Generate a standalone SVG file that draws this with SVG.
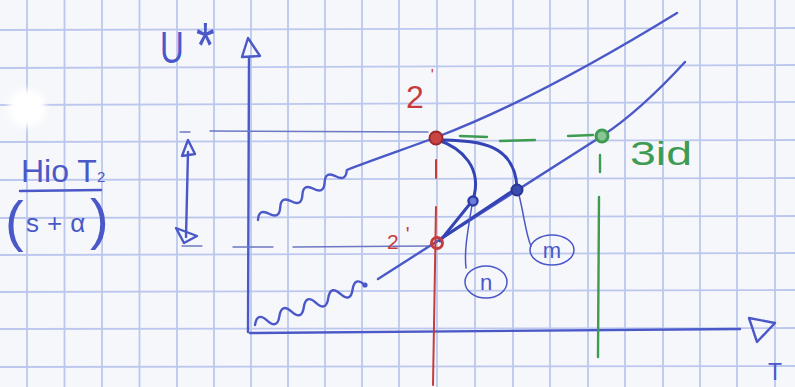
<svg xmlns="http://www.w3.org/2000/svg" width="795" height="387" viewBox="0 0 795 387">
<defs>
<filter id="blur" x="-50%" y="-50%" width="200%" height="200%"><feGaussianBlur stdDeviation="3"/></filter>
</defs>
<style>
.grid line{stroke:#bcc7ee;stroke-width:1.8}
.pen{fill:none;stroke:#4a58c8;stroke-width:2.4;stroke-linecap:round;stroke-linejoin:round}
.thick{fill:none;stroke:#3444b4;stroke-width:3;stroke-linecap:round;stroke-linejoin:round}
.thin{fill:none;stroke:#6d78c4;stroke-width:1.4;stroke-linecap:round}
.lead{fill:none;stroke:#4a58c8;stroke-width:1.5;stroke-linecap:round}
.red{fill:none;stroke:#c63c3c;stroke-width:2;stroke-linecap:round}
.green{fill:none;stroke:#3e9b52;stroke-width:2.4;stroke-linecap:round}
text{font-family:"Liberation Sans",Arial,sans-serif}
.tb{fill:#4a58c8}
.tr{fill:#c63c3c}
.tg{fill:#3e9b52}
</style>
<rect width="795" height="387" fill="#f6f7fb"/>
<g class="grid">
<line x1="27" y1="0" x2="27" y2="387"/><line x1="64.5" y1="0" x2="64.5" y2="387"/><line x1="102" y1="0" x2="102" y2="387"/><line x1="139.5" y1="0" x2="139.5" y2="387"/><line x1="177" y1="0" x2="177" y2="387"/><line x1="214" y1="0" x2="214" y2="387"/><line x1="251" y1="0" x2="251" y2="387"/><line x1="288" y1="0" x2="288" y2="387"/><line x1="325" y1="0" x2="325" y2="387"/><line x1="362" y1="0" x2="362" y2="387"/><line x1="399" y1="0" x2="399" y2="387"/><line x1="437" y1="0" x2="437" y2="387"/><line x1="475" y1="0" x2="475" y2="387"/><line x1="513" y1="0" x2="513" y2="387"/><line x1="550" y1="0" x2="550" y2="387"/><line x1="588" y1="0" x2="588" y2="387"/><line x1="625" y1="0" x2="625" y2="387"/><line x1="663" y1="0" x2="663" y2="387"/><line x1="700" y1="0" x2="700" y2="387"/><line x1="737" y1="0" x2="737" y2="387"/><line x1="775" y1="0" x2="775" y2="387"/>
<line x1="0" y1="30" x2="795" y2="28"/><line x1="0" y1="68" x2="795" y2="65"/><line x1="0" y1="105" x2="795" y2="102"/><line x1="0" y1="142" x2="795" y2="140"/><line x1="0" y1="180" x2="795" y2="178"/><line x1="0" y1="218" x2="795" y2="216"/><line x1="0" y1="255" x2="795" y2="253"/><line x1="0" y1="292" x2="795" y2="290"/><line x1="0" y1="329" x2="795" y2="328"/><line x1="0" y1="367" x2="795" y2="366"/>
</g>
<circle cx="27" cy="108" r="19" fill="#ffffff" filter="url(#blur)"/>

<g id="axes">
<path class="pen" d="M248,332 L249,57"/>
<polygon class="pen" points="248,38 242,57 260,56"/>
<path class="pen" d="M250,333 Q500,332 740,329"/>
<polygon class="pen" points="749,318 775,323 757,342"/>
<text class="tb" transform="translate(160,63) scale(0.75,1)"><tspan font-size="44">U</tspan><tspan x="48" y="5" font-size="64">*</tspan></text>
<text class="tb" x="768" y="380" font-size="23">T</text>
</g>

<g id="gain-label">
<text class="tb" x="21" y="182" font-size="32">Hio T<tspan font-size="15">2</tspan></text>
<path class="pen" d="M20,191 L101,190"/>
<text class="tb"><tspan x="5" y="240" font-size="56">(</tspan><tspan x="26" y="232" font-size="26" letter-spacing="8">s+α</tspan><tspan x="90" y="238" font-size="56">)</tspan></text>
<path class="pen" d="M188,152 L186,237"/>
<polygon class="pen" points="188,140 182,156 195,154"/>
<polygon class="pen" points="176,228 197,236 184,243"/>
</g>

<g id="connectors">
<path class="thin" d="M180,132 L190,132 M210,131 L428,132"/>
<path class="thin" d="M182,246 L202,246 M233,247 L273,247 M293,247 L428,246"/>
<path class="pen" d="M258,220 q0.65,-11.8 11.1,-6.25 t11.1,-6.25 t11.1,-6.25 t11.1,-6.25 t11.1,-6.25 t11.1,-6.25 t11.1,-6.25 t11.1,-6.25 C372,160 402,150 437,137 Q537,99 677,13"/>
<path class="pen" d="M255,325 q2.0,-13.5 12.2,-4.44 t12.2,-4.44 t12.2,-4.44 t12.2,-4.44 t12.2,-4.44 t12.2,-4.44 t12.2,-4.44 t12.2,-4.44 t12.2,-4.44"/>
<circle cx="365" cy="285" r="2.6" fill="#4a58c8"/>
<path class="pen" d="M378,279 L602,136 Q640,111 685,62"/>
<path class="red" d="M436,160 L436,178 M436,207 L433,385"/>
<path class="green" d="M460,136 L487,137 M500,141 L535,140 M568,136 L593,135"/>
<path class="green" d="M600,155 L600,172 M599,197 L598,357"/>
<path class="thick" d="M438,140 C462,148 483,168 473,200 L440,241"/>
<path class="thick" d="M444,140 C480,141 515,144 517,188 L442,238"/>
<path class="lead" d="M472,205 C468,230 464,250 466,268"/>
<path class="lead" d="M519,195 C524,215 526,235 531,246"/>
</g>

<g id="point-2">
<circle cx="436" cy="138" r="6.5" fill="#c94444" stroke="#9a2a2a" stroke-width="2"/>
<text class="tr" x="406" y="108" font-size="32">2<tspan dx="7" dy="-27" font-size="16">'</tspan></text>
</g>
<g id="point-2prime">
<circle cx="437" cy="243" r="5.5" fill="none" stroke="#c63c3c" stroke-width="3"/>
<text class="tr" x="387" y="249" font-size="21">2<tspan dx="7" dy="-8" font-size="20">'</tspan></text>
</g>
<g id="point-3id">
<circle cx="602" cy="136" r="6" fill="#8cc596" stroke="#3e9b52" stroke-width="3"/>
<text class="tg" x="630" y="165" font-size="34" textLength="62" lengthAdjust="spacingAndGlyphs">3id</text>
</g>
<g id="point-n">
<circle cx="473" cy="201" r="4.5" fill="#6c7ad8" stroke="#2e3ea8" stroke-width="2.5"/>
<ellipse class="lead" cx="486" cy="282" rx="21" ry="16"/>
<text class="tb" x="486" y="290" font-size="22" text-anchor="middle">n</text>
</g>
<g id="point-m">
<circle cx="517" cy="190" r="5.5" fill="#3a4ab0" stroke="#2a3590" stroke-width="2"/>
<ellipse class="lead" cx="552" cy="250" rx="22" ry="15"/>
<text class="tb" x="552" y="258" font-size="22" text-anchor="middle">m</text>
</g>
</svg>
